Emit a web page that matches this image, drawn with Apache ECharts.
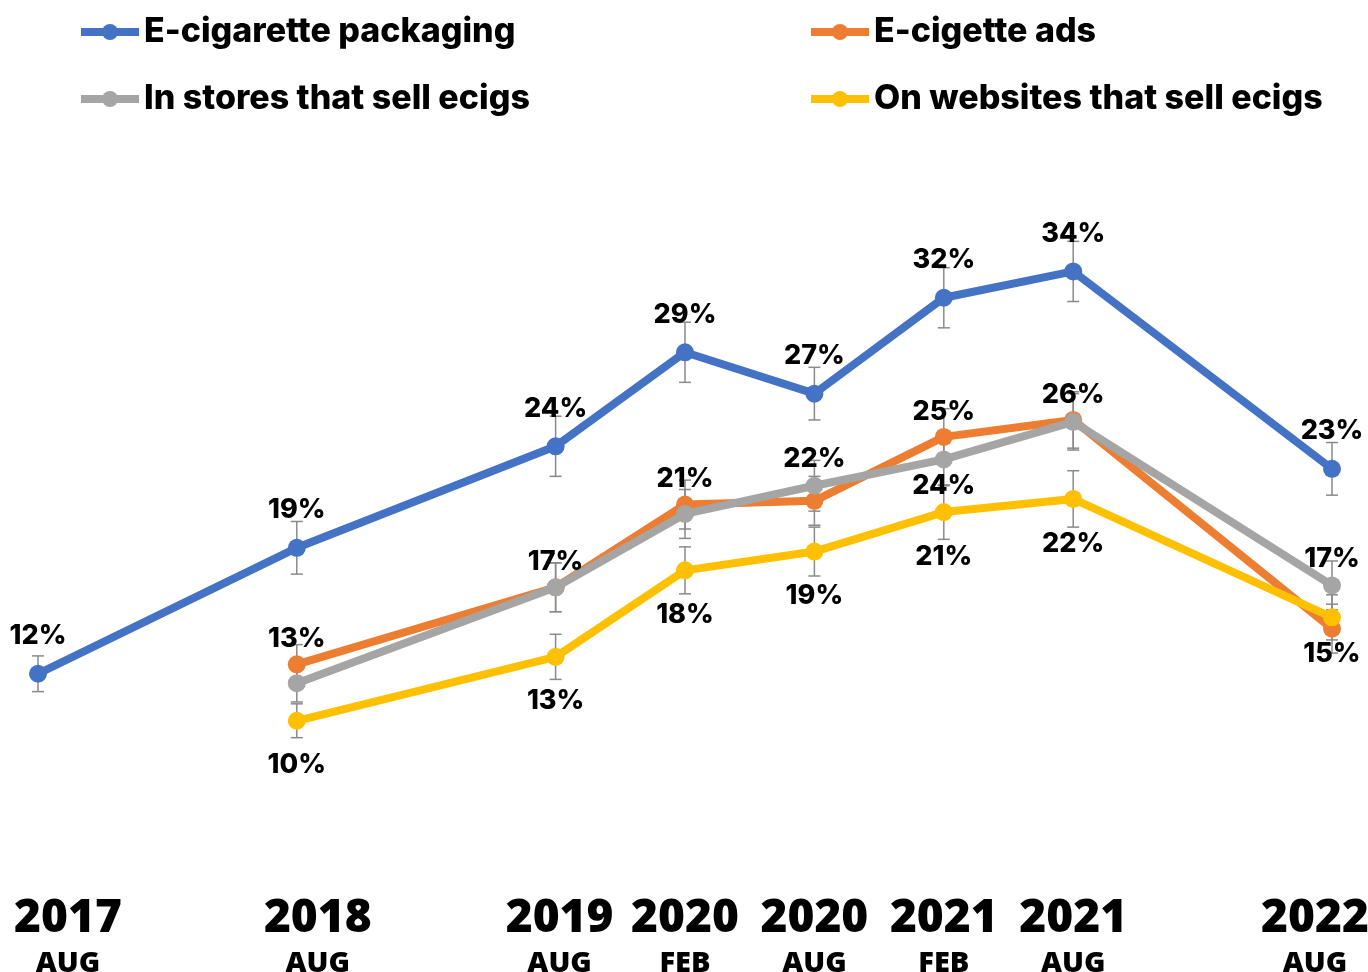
<!DOCTYPE html>
<html>
<head>
<meta charset="utf-8">
<script src="https://cdn.jsdelivr.net/npm/echarts@6/dist/echarts.min.js"></script>
<style>
html,body{margin:0;padding:0;background:#fff;}
#chart{width:1368px;height:972px;}
</style>
</head>
<body>
<div id="chart"></div>
<script>
// ---- Data ----
var seriesNames = ['E-cigarette packaging', 'E-cigette ads', 'In stores that sell ecigs', 'On websites that sell ecigs'];
// months since Aug 2017
var blueMonths = [0, 12, 24, 30, 36, 42, 48, 60];
var otherMonths = [12, 24, 30, 36, 42, 48, 60];
var packagingValues = [12.3, 19.0, 24.4, 29.4, 27.2, 32.3, 33.7, 23.2];
var packagingErrors = [0.95, 1.4, 1.6, 1.6, 1.4, 1.6, 1.6, 1.4];
var adsValues = [12.8, 16.9, 21.3, 21.5, 24.9, 25.8, 14.7];
var adsErrors = [1.05, 1.3, 1.3, 1.3, 1.5, 1.5, 1.3];
var storesValues = [11.8, 16.9, 20.8, 22.3, 23.7, 25.7, 17.0];
var storesErrors = [1.0, 1.3, 1.3, 1.35, 1.4, 1.5, 1.3];
var websitesValues = [9.8, 13.2, 17.8, 18.8, 20.9, 21.6, 15.3];
var websitesErrors = [0.9, 1.2, 1.25, 1.3, 1.45, 1.5, 1.2];
var tickMonths = [0, 12, 24, 30, 36, 42, 48, 60];
var tickYears = ['2017', '2018', '2019', '2020', '2020', '2021', '2021', '2022'];
var tickPeriods = ['AUG', 'AUG', 'AUG', 'FEB', 'AUG', 'FEB', 'AUG', 'AUG'];

// ---- Styles (kept apart from data) ----
var colors = ['#4472C4', '#ED7D31', '#A5A5A5', '#FFC000'];
var packagingLabelPos = ['top', 'top', 'top', 'top', 'top', 'top', 'top', 'top'];
var adsLabelPos = ['top', 'top', 'top', null, 'top', 'top', 'bottom'];
var storesLabelPos = [null, null, null, 'top', 'bottom', null, 'top'];
var websitesLabelPos = ['bottom', 'bottom', 'bottom', 'bottom', 'bottom', 'bottom', null];
var labelDistance = [15, 3, 4, 22];
var tickShift = [30, 21, 4, 0, 0, 0, 0, -17];

var FONT = "Inter, 'Noto Sans', sans-serif";
var NARROW = "'Noto Sans', Inter, sans-serif";

function buildData(months, values, positions, dist) {
  return months.map(function (m, i) {
    var p = positions[i];
    return {
      value: [m, values[i]],
      label: p ? { show: true, position: p, distance: dist } : { show: false }
    };
  });
}
function buildErr(months, values, errs) {
  return months.map(function (m, i) { return [m, values[i] - errs[i], values[i] + errs[i]]; });
}

var rich = {};
tickShift.forEach(function (s, i) {
  var pad = [0, s < 0 ? -2 * s : 0, 0, s > 0 ? 2 * s : 0];
  rich['y' + i] = { fontFamily: NARROW, fontWeight: 900, fontSize: 46, lineHeight: 46, color: '#000', padding: pad };
  rich['m' + i] = { fontFamily: NARROW, fontWeight: 900, fontSize: 29, lineHeight: 44, color: '#000', padding: pad };
});

function lineSeries(idx, months, values, positions) {
  return {
    name: seriesNames[idx],
    type: 'line',
    data: buildData(months, values, positions, labelDistance[idx]),
    symbol: 'circle',
    symbolSize: 18,
    z: 10 + idx,
    itemStyle: { color: colors[idx] },
    lineStyle: { color: colors[idx], width: 8 },
    label: {
      color: '#000', fontFamily: FONT, fontWeight: 800, fontSize: 27,
      formatter: function (p) { return Math.round(p.value[1]) + '%'; }
    },
    emphasis: { disabled: true }
  };
}
function errSeries(months, values, errs) {
  return {
    type: 'custom',
    data: buildErr(months, values, errs),
    z: 2,
    silent: true,
    renderItem: function (params, api) {
      var x = api.value(0);
      var lo = api.coord([x, api.value(1)]);
      var hi = api.coord([x, api.value(2)]);
      var st = { stroke: '#8a8a8a', lineWidth: 1.5 };
      var c = 6;
      return {
        type: 'group',
        children: [
          { type: 'line', shape: { x1: hi[0], y1: hi[1], x2: lo[0], y2: lo[1] }, style: st },
          { type: 'line', shape: { x1: hi[0] - c, y1: hi[1], x2: hi[0] + c, y2: hi[1] }, style: st },
          { type: 'line', shape: { x1: lo[0] - c, y1: lo[1], x2: lo[0] + c, y2: lo[1] }, style: st }
        ]
      };
    }
  };
}

var legendText = { color: '#000', fontFamily: FONT, fontWeight: 800, fontSize: 34, lineHeight: 36 };
var legendBase = { orient: 'vertical', top: 9, itemWidth: 58, itemHeight: 20, itemGap: 31, textStyle: legendText, lineStyle: { width: 8 } };
var option = {
  animation: false,
  backgroundColor: '#fff',
  legend: [
    Object.assign({ data: [seriesNames[0], seriesNames[2]], left: 72 }, legendBase),
    Object.assign({ data: [seriesNames[1], seriesNames[3]], left: 802 }, legendBase)
  ],
  grid: { left: 38, right: 36, top: 153, bottom: 67, containLabel: false, outerBoundsMode: 'none' },
  xAxis: {
    type: 'value', min: 0, max: 60, interval: 6,
    axisLine: { show: false }, axisTick: { show: false }, splitLine: { show: false },
    axisLabel: {
      margin: -9,
      showMinLabel: true, showMaxLabel: true,
      hideOverlap: false,
      formatter: function (v) {
        var i = tickMonths.indexOf(v);
        if (i < 0) return '';
        return '{y' + i + '|' + tickYears[i] + '}\n{m' + i + '|' + tickPeriods[i] + '}';
      },
      rich: rich
    }
  },
  yAxis: { type: 'value', min: 0, max: 40, show: false, splitLine: { show: false } },
  series: [
    errSeries(blueMonths, packagingValues, packagingErrors),
    errSeries(otherMonths, adsValues, adsErrors),
    errSeries(otherMonths, storesValues, storesErrors),
    errSeries(otherMonths, websitesValues, websitesErrors),
    lineSeries(0, blueMonths, packagingValues, packagingLabelPos),
    lineSeries(1, otherMonths, adsValues, adsLabelPos),
    lineSeries(2, otherMonths, storesValues, storesLabelPos),
    lineSeries(3, otherMonths, websitesValues, websitesLabelPos)
  ]
};
var chart = echarts.init(document.getElementById('chart'), null, { renderer: 'canvas' });
chart.setOption(option);
</script>
</body>
</html>
